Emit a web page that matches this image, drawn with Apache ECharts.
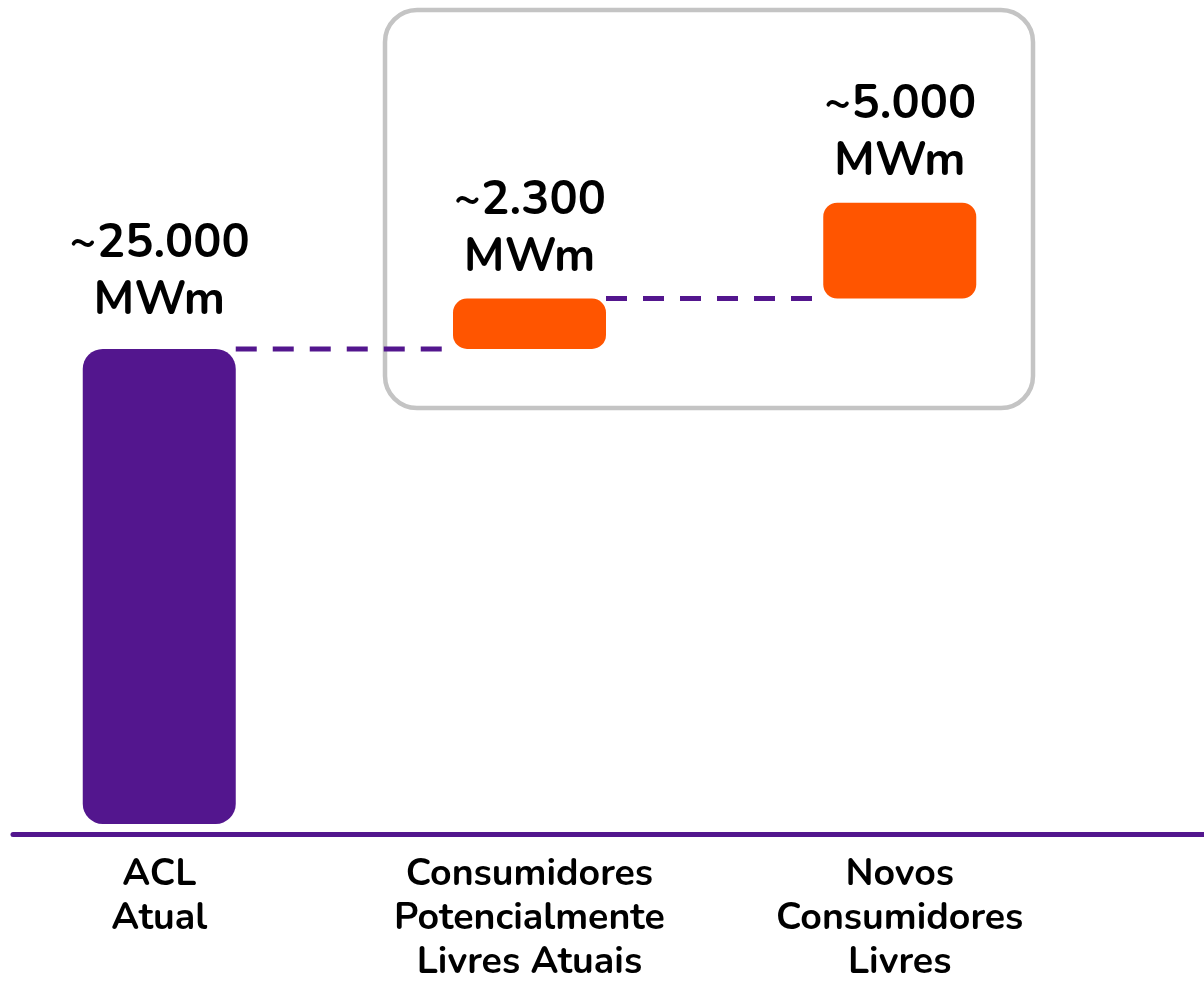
<!DOCTYPE html>
<html><head><meta charset="utf-8">
<script src="https://cdn.jsdelivr.net/npm/echarts@6/dist/echarts.min.js"></script>
<style>html,body{margin:0;padding:0;background:#fff}#c{width:1204px;height:983px}</style>
</head><body><div id="c"></div>
<script>
const categories = ['ACL\nAtual', 'Consumidores\nPotencialmente\nLivres Atuais', 'Novos\nConsumidores\nLivres'];
const values = [25000, 2650, 5050];
const valueLabels = ['~25.000\nMWm', '~2.300\nMWm', '~5.000\nMWm'];
const barColors = ['#53168E', '#FF5500', '#FF5500'];

const PURPLE = '#53168E';
const FONT = 'Nunito, Lato, "Noto Sans", sans-serif';
const halfBar = 0.2066, gap = 0.0216;

// waterfall bases
const bases = [];
let run = 0;
values.forEach((v, i) => { bases.push(i === 0 ? 0 : run); run = (i === 0 ? v : run + v); });

const connectorSeries = [];
for (let i = 0; i < values.length - 1; i++) {
  const y = bases[i] + values[i];
  connectorSeries.push({
    type: 'line', xAxisIndex: 1, yAxisIndex: 0, silent: true, symbol: 'none',
    lineStyle: { color: PURPLE, width: 5, type: [21, 16] },
    data: [[i + halfBar, y], [i + 1 - halfBar - gap, y]]
  });
}

const chart = echarts.init(document.getElementById('c'));
chart.setOption({
  animation: false,
  grid: [
    { left: 159.25, right: 304.25, top: 0, bottom: 149, outerBoundsMode: 'none', containLabel: false },
    { left: 13, right: 0, top: 0, bottom: 149, outerBoundsMode: 'none', containLabel: false }
  ],
  xAxis: [
    {
      type: 'category', gridIndex: 0, data: categories, boundaryGap: false,
      axisLine: { show: false }, axisTick: { show: false },
      axisLabel: {
        interval: 0,
        color: '#000', fontFamily: FONT, fontWeight: 'bold', fontSize: 37.5, lineHeight: 44,
        margin: 20, verticalAlign: 'top'
      }
    },
    { type: 'value', gridIndex: 0, min: 0, max: 2, show: false },
    {
      type: 'category', gridIndex: 1, data: [''],
      axisLine: { show: true, lineStyle: { color: PURPLE, width: 5 } },
      axisTick: { show: false }, axisLabel: { show: false }
    }
  ],
  yAxis: [
    { type: 'value', gridIndex: 0, min: -530, max: 43365, show: false, splitLine: { show: false } },
    { type: 'value', gridIndex: 1, min: 0, max: 1, show: false, splitLine: { show: false } }
  ],
  graphic: [{
    type: 'rect', z: -1,
    shape: { x: 385, y: 10, width: 648, height: 398, r: 32 },
    style: { fill: 'none', stroke: '#C4C4C4', lineWidth: 4.5 }
  }],
  series: [
    {
      type: 'bar', stack: 'w', barWidth: 153, silent: true, clip: false,
      itemStyle: { color: 'transparent' },
      data: bases
    },
    {
      type: 'bar', stack: 'w', barWidth: 153, clip: false,
      data: values.map((v, i) => ({
        value: v,
        itemStyle: { color: barColors[i], borderRadius: i === 0 ? 20 : 14 },
        label: { distance: i === 0 ? 18 : 10 }
      })),
      label: {
        show: true, position: 'top',
        formatter: p => valueLabels[p.dataIndex],
        color: '#000', fontFamily: FONT, fontWeight: 'bold', fontSize: 47, lineHeight: 57
      }
    }
  ].concat(connectorSeries)
});
</script></body></html>
